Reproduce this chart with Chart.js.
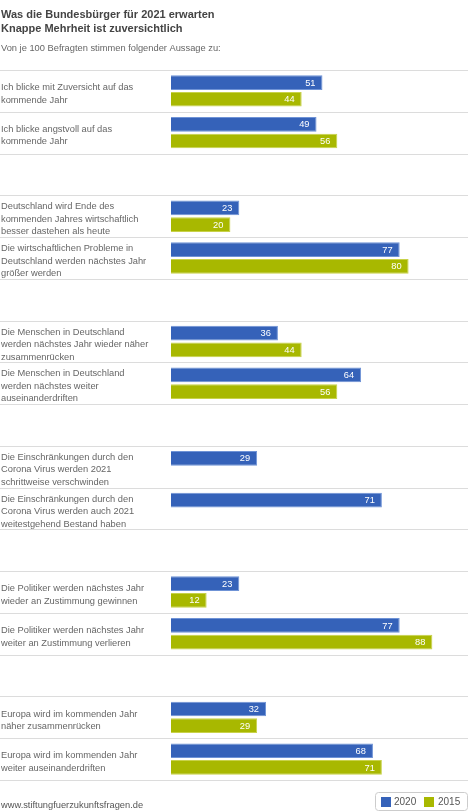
<!DOCTYPE html><html><head><meta charset="utf-8">
<script src="https://cdn.jsdelivr.net/npm/chart.js@4"></script>
<style>html,body{margin:0;padding:0;background:#fff}</style></head><body>
<canvas id="c" width="468" height="812"></canvas>
<script>
const categories = [
 ["Ich blicke mit Zuversicht auf das","kommende Jahr"],
 ["Ich blicke angstvoll auf das","kommende Jahr"],
 [],
 ["Deutschland wird Ende des","kommenden Jahres wirtschaftlich","besser dastehen als heute"],
 ["Die wirtschaftlichen Probleme in","Deutschland werden nächstes Jahr","größer werden"],
 [],
 ["Die Menschen in Deutschland","werden nächstes Jahr wieder näher","zusammenrücken"],
 ["Die Menschen in Deutschland","werden nächstes weiter","auseinanderdriften"],
 [],
 ["Die Einschränkungen durch den","Corona Virus werden 2021","schrittweise verschwinden"],
 ["Die Einschränkungen durch den","Corona Virus werden auch 2021","weitestgehend Bestand haben"],
 [],
 ["Die Politiker werden nächstes Jahr","wieder an Zustimmung gewinnen"],
 ["Die Politiker werden nächstes Jahr","weiter an Zustimmung verlieren"],
 [],
 ["Europa wird im kommenden Jahr","näher zusammenrücken"],
 ["Europa wird im kommenden Jahr","weiter auseinanderdriften"]
];
const values2020 = [51,49,null,23,77,null,36,64,null,29,71,null,23,77,null,32,68];
const values2015 = [44,56,null,20,80,null,44,56,null,null,null,null,12,88,null,29,71];
const seriesNames = ["2020","2015"];
const colors = ["#3562b9","#a8b800"];
const F = "Arial, 'Liberation Sans', sans-serif";

const deco = {
 id:'deco',
 afterDraw(ch){
  const c=ch.ctx, y=ch.scales.y, a=ch.chartArea;
  c.save();
  c.fillStyle='#444'; c.font='bold 11px '+F; c.textBaseline='middle';
  c.fillText('Was die Bundesbürger für 2021 erwarten',1,15);
  c.fillText('Knappe Mehrheit ist zuversichtlich',1,29);
  c.fillStyle='#666'; c.font='9.3px '+F;
  c.fillText('Von je 100 Befragten stimmen folgender Aussage zu:',1,48);
  c.strokeStyle='#dcdcdc'; c.lineWidth=1;
  const n=categories.length, h=(a.bottom-a.top)/n;
  for(let i=0;i<=n;i++){const yy=Math.round(a.top+i*h)+0.5;c.beginPath();c.moveTo(0,yy);c.lineTo(468,yy);c.stroke();}
  c.fillStyle='#666'; c.font='9.3px '+F;
  categories.forEach((l,i)=>{
    const cy=y.getPixelForValue(i)+3, lh=12.5;
    l.forEach((t,j)=>c.fillText(t,1,cy+(j-(l.length-1)/2)*lh));
  });
  c.fillStyle='#fff'; c.textAlign='right';
  ch.data.datasets.forEach((ds,di)=>{
    ch.getDatasetMeta(di).data.forEach((b,i)=>{
      if(ds.data[i]==null) return;
      c.fillText(ds.data[i],b.x-7,b.y+0.5);
    });
  });
  c.textAlign='left'; c.fillStyle='#555';
  c.fillText('www.stiftungfuerzukunftsfragen.de',1,805);
  c.strokeStyle='#ccc'; c.beginPath(); c.roundRect(375.5,792.5,92,18,3); c.stroke();
  c.fillStyle=colors[0]; c.fillRect(381,797,10,10);
  c.fillStyle=colors[1]; c.fillRect(424,797,10,10);
  c.fillStyle='#555'; c.font='10px '+F;
  c.fillText(seriesNames[0],394,802); c.fillText(seriesNames[1],438,802);
  c.restore();
 }
};

new Chart(document.getElementById('c'),{
 type:'bar',
 data:{labels:categories.map((_,i)=>i),datasets:[
  {label:seriesNames[0],data:values2020,backgroundColor:colors[0],borderColor:'#6f93d6',borderWidth:1,categoryPercentage:0.8,barPercentage:0.88},
  {label:seriesNames[1],data:values2015,backgroundColor:colors[1],borderColor:'#c8d24a',borderWidth:1,categoryPercentage:0.8,barPercentage:0.88}
 ]},
 options:{indexAxis:'y',responsive:false,animation:false,
  layout:{padding:{left:171,top:70,bottom:32,right:0}},
  plugins:{legend:{display:false},tooltip:{enabled:false}},
  scales:{x:{display:false,min:0,max:100},y:{display:false}}
 },
 plugins:[deco]
});
</script></body></html>
